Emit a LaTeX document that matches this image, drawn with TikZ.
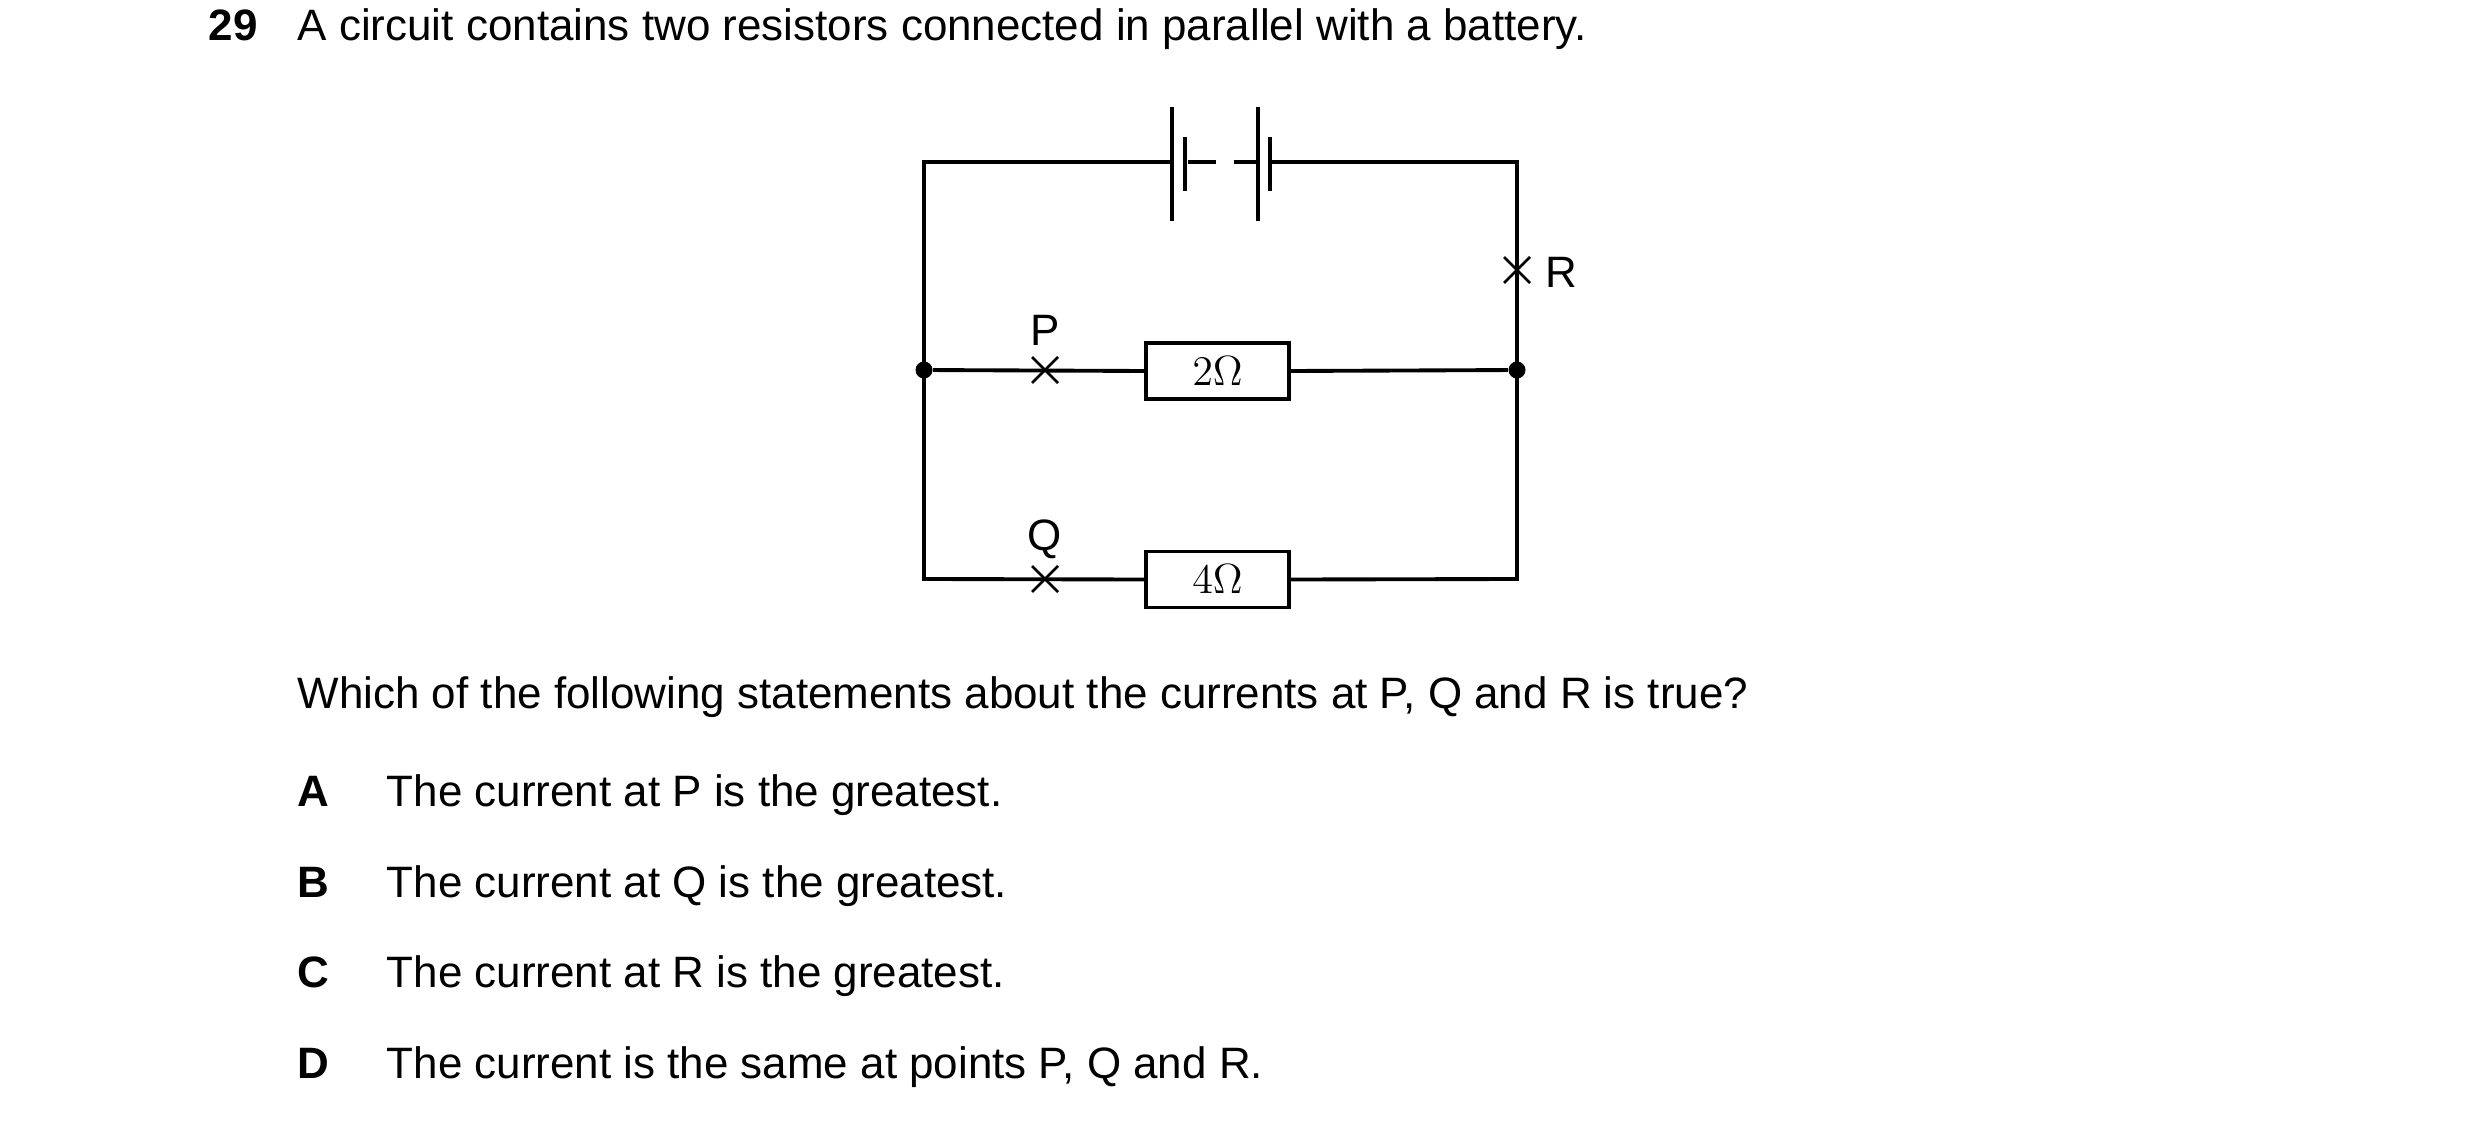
\documentclass[tikz,border=0pt]{standalone}
\usepackage{fontspec}
\setmainfont{Liberation Sans}
\begin{document}
\begin{tikzpicture}[x=0.01cm,y=-0.01cm,
  wire/.style={line width=1.1pt},
  txt/.style={anchor=base west,inner sep=0pt,font=\fontsize{12.5}{15}\selectfont},
  lab/.style={inner sep=0pt,font=\fontsize{12.5}{15}\selectfont},
  res/.style={draw,line width=1.1pt,minimum width=1.43cm,minimum height=0.56cm,inner sep=0pt,font=\fontsize{12.5}{15}\selectfont},
  cross/.style={line width=0.8pt},
  dot/.style={circle,fill,inner sep=0pt,minimum size=0.17cm}]
\useasboundingbox (0,0) rectangle (2480,1121);
\node[txt,font=\bfseries\fontsize{12.5}{15}\selectfont] (num) at (208,41) {29};
\node[txt] (q) at (297,41) {A circuit contains two resistors connected in parallel with a battery.};
% nodes
\coordinate (tl) at (924,162); \coordinate (tr) at (1517,162);
\node[dot] (ml) at (924,370) {}; \node[dot] (mr) at (1517,370) {};
\coordinate (bl) at (924,579); \coordinate (br) at (1517,579);
\node[res] (r2) at (1217.5,371) {$2\Omega$};
\node[res] (r4) at (1217.5,579.5) {$4\Omega$};
\coordinate (b1) at (1172,162); \coordinate (b4) at (1270,162);
% wires
\draw[wire] (b1) -- (tl) -- (bl) -- (r4.west);
\draw[wire] (r4.east) -- (br) -- (tr) -- (b4);
\draw[wire] (ml) -- (r2.west); \draw[wire] (r2.east) -- (mr);
% battery
\draw[wire] (1172,107) -- (1172,221);
\draw[wire] (1185,137) -- (1185,191);
\draw[wire] (1258,107) -- (1258,221);
\draw[wire] (1270,137) -- (1270,191);
\draw[wire,dash pattern=on 8pt off 5pt] (1188,162) -- (1258,162);
% crosses
\foreach \x/\y in {1045/370,1045/579,1517/270}{
  \draw[cross] (\x-13,\y-13) -- (\x+13,\y+13) (\x-13,\y+13) -- (\x+13,\y-13);}
\node[lab] (P) at (1045,330) {P};
\node[lab] (Q) at (1045,539) {Q};
\node[lab] (R) at (1561,272) {R};
\node[txt] (w) at (297,708) {Which of the following statements about the currents at P, Q and R is true?};
\foreach \l/\t/\y in {A/The current at P is the greatest./806,B/The current at Q is the greatest./897,C/The current at R is the greatest./987,D/{The current is the same at points P, Q and R.}/1078}{
  \node[txt,font=\bfseries\fontsize{12.5}{15}\selectfont] at (297,\y) {\l};
  \node[txt] at (386,\y) {\t};}
\end{tikzpicture}
\end{document}
